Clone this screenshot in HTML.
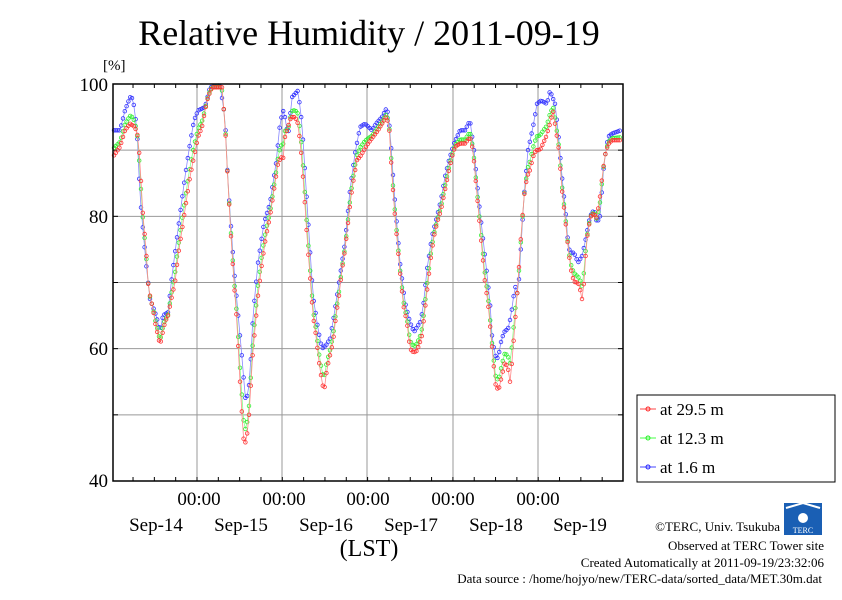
<!DOCTYPE html>
<html><head><meta charset="utf-8"><style>
body{margin:0;background:#fff;width:842px;height:595px;overflow:hidden}
svg text{font-family:"Liberation Serif",serif}
</style></head><body>
<svg id="s" width="842" height="595" xmlns="http://www.w3.org/2000/svg">
<text x="369" y="45" font-size="36" text-anchor="middle">Relative Humidity / 2011-09-19</text>
<text x="103" y="70" font-size="15">[%]</text>
<g font-size="19" text-anchor="end">
<text x="108" y="91">100</text><text x="108" y="223">80</text><text x="108" y="355">60</text><text x="108" y="487">40</text>
</g>
<g font-size="19" text-anchor="middle">
<text x="199" y="505">00:00</text><text x="284" y="505">00:00</text><text x="368" y="505">00:00</text><text x="453" y="505">00:00</text><text x="538" y="505">00:00</text>
<text x="156" y="531">Sep-14</text><text x="241" y="531">Sep-15</text><text x="326" y="531">Sep-16</text><text x="411" y="531">Sep-17</text><text x="496" y="531">Sep-18</text><text x="580" y="531">Sep-19</text>
</g>
<text x="369" y="556" font-size="24" text-anchor="middle">(LST)</text>
<g font-size="13" text-anchor="end">
<text x="780" y="531">©TERC, Univ. Tsukuba</text>
<text x="824" y="550">Observed at TERC Tower site</text>
<text x="824" y="567">Created Automatically at 2011-09-19/23:32:06</text>
<text x="822" y="583">Data source : /home/hojyo/new/TERC-data/sorted_data/MET.30m.dat</text>
</g>
<g>
<rect x="784" y="503" width="38" height="32" fill="#1a5fb4"/>
<path d="M786 508 L803 503 L820 508" stroke="#fff" stroke-width="2" fill="none"/>
<circle cx="803" cy="518" r="5" fill="#fff"/>
<text x="803" y="533" font-size="8" fill="#fff" text-anchor="middle" font-family="Liberation Sans,sans-serif">TERC</text>
</g>
<g id="grid" stroke="#999" stroke-width="1"></g>
<g id="data"></g>
<rect x="113" y="84" width="510" height="397" fill="none" stroke="#000" stroke-width="1.5"/>
<rect x="637" y="395" width="198" height="87" fill="#fff" stroke="#000" stroke-width="1"/>
<g font-size="17">
<line x1="640" y1="409" x2="656" y2="409" stroke="#f44"/><circle cx="648" cy="409" r="2" fill="none" stroke="#f22"/>
<text x="660" y="415">at 29.5 m</text>
<line x1="640" y1="438" x2="656" y2="438" stroke="#4f4"/><circle cx="648" cy="438" r="2" fill="none" stroke="#2e2"/>
<text x="660" y="444">at 12.3 m</text>
<line x1="640" y1="467" x2="656" y2="467" stroke="#44f"/><circle cx="648" cy="467" r="2" fill="none" stroke="#22f"/>
<text x="660" y="473">at 1.6 m</text>
</g>
</svg>
<script>
function Y(v){return 481-(v-40)*6.617;}
var g=document.getElementById('grid'),h='';
[197,282,367,453,538].forEach(function(x){h+='<line x1="'+x+'" y1="84" x2="'+x+'" y2="481"/>';});
[90,80,70,60,50].forEach(function(v){h+='<line x1="113" y1="'+Y(v)+'" x2="623" y2="'+Y(v)+'"/>';});
for(var x=197-85.3;x<623;x+=85.3/4){if(x>114){h+='<line stroke="#000" x1="'+x+'" y1="84" x2="'+x+'" y2="88"/><line stroke="#000" x1="'+x+'" y1="481" x2="'+x+'" y2="477"/>';}}
[100,90,80,70,60,50,40].forEach(function(v){h+='<line stroke="#000" x1="113" y1="'+Y(v)+'" x2="118" y2="'+Y(v)+'"/><line stroke="#000" x1="623" y1="'+Y(v)+'" x2="618" y2="'+Y(v)+'"/>';});
g.innerHTML=h;
var red=[[113,89],[120,90.5],[125,93],[130,94],[135,93.5],[138,92],[140,88],[143,80],[146,75],[148,70],[150,68],[153,66],[155,64],[158,62],[160,60.5],[162,62],[165,64],[168,65],[172,68],[175,70],[178,74],[182,78],[186,82],[190,86],[194,89],[198,92],[202,93.5],[205,96],[208,98],[212,99.5],[222,99.5],[225,94],[228,85],[231,77],[234,70],[237,64],[240,55],[242,50],[244,45.5],[246,46],[248,48],[250,52],[252,58],[255,63],[258,68],[262,73],[266,77],[270,80],[274,84],[278,88],[281,89],[283,88.5],[285,92],[288,93.5],[291,95],[295,95],[298,94],[301,90],[304,84],[307,77],[310,71],[313,65],[316,62],[319,58],[322,55],[324,53.5],[327,57],[330,59],[333,61],[336,65],[339,68],[342,72],[345,75],[348,79],[351,83],[354,86],[357,88.5],[360,89],[364,90],[368,91],[373,92],[378,93],[382,94],[386,95],[389,94],[392,86],[395,80],[398,75],[401,70],[404,66],[407,64],[410,60],[413,59.5],[416,59.5],[419,60.5],[422,62],[425,66],[428,70],[431,74],[434,77],[437,79],[441,81],[445,84],[449,87],[452,89],[455,90.5],[460,91],[465,91],[470,92],[473,90],[476,85],[479,80],[482,75],[485,70],[488,67],[491,62],[494,57],[496,54],[499,54],[502,56],[505,58],[508,57],[510,55],[512,58],[515,64],[518,70],[521,77],[524,83],[527,86],[530,87],[533,89],[536,90],[540,90],[543,91],[546,92],[550,94],[553,96],[556,93],[559,90],[562,84],[565,80],[568,75.5],[570,73],[572,71],[575,70],[578,70],[580,69],[582,67.5],[584,70],[586,75],[588,78],[591,80],[594,80.5],[596,79.5],[598,81],[600,83],[603,87],[606,90],[609,91],[612,91.5],[621,91.5]];
var blue=[[113,93],[120,93],[125,96],[130,98],[133,97.8],[137,93],[140,83],[146,73],[150,67.5],[155,65.5],[158,64],[160,62.5],[163,65],[168,65.5],[172,71],[178,78],[185,86],[190,91],[194,94.5],[198,96],[205,96.5],[210,99.5],[220,99.8],[225,95],[228,85],[234,72],[240,62],[243,57],[245,52.5],[248,53],[250,56],[253,65],[258,73],[264,79],[270,82],[276,88],[280,94],[283,96],[285,95],[288,92],[292,98],[298,99],[302,94],[307,82],[313,68],[318,63],[322,60],[326,60.5],[330,61.5],[334,65],[339,70],[345,76],[350,84],[355,89.5],[360,93.5],[365,94],[372,93],[376,94],[382,95],[387,96.5],[390,93],[394,84],[400,73],[405,67],[410,64],[414,62.5],[418,63.5],[420,64],[423,66],[427,72],[432,77],[437,80],[441,82.5],[445,86],[449,88.5],[454,91],[460,93],[465,93],[470,94.5],[474,90],[479,82],[485,74],[490,67],[492,62],[495,59],[498,58.5],[501,61],[504,62.5],[508,63],[511,65],[515,69.5],[518,68],[520,73],[524,83],[528,90],[533,93.5],[537,97],[541,97.5],[547,97],[550,99],[555,97],[558,93],[562,86],[566,80],[568,76],[570,74.5],[574,74.5],[578,73],[582,74],[585,76],[590,80],[594,81],[597,79],[600,80],[604,88],[608,92],[612,92.5],[621,93]];
function interp(a,x){for(var i=1;i<a.length;i++){if(x<=a[i][0]){var t=(x-a[i-1][0])/(a[i][0]-a[i-1][0]);return a[i-1][1]+t*(a[i][1]-a[i-1][1]);}}return a[a.length-1][1];}
var xs=[];for(var x=114;x<=621;x+=1.8)xs.push(x);
function series(f,lc,mc){var p=[],c='';xs.forEach(function(x){var y=Y(Math.min(100,f(x)));p.push(x.toFixed(1)+','+y.toFixed(1));c+='<circle cx="'+x.toFixed(1)+'" cy="'+y.toFixed(1)+'" r="1.8"/>';});
return '<polyline points="'+p.join(' ')+'" fill="none" stroke="'+lc+'" stroke-width="0.8"/><g fill="none" stroke="'+mc+'" stroke-width="0.8">'+c+'</g>';}
var d=series(function(x){return interp(blue,x);},'#88f','#33f')+series(function(x){var r=interp(red,x),b=interp(blue,x);return r+0.3*(b-r);},'#8f8','#3e3')+series(function(x){return interp(red,x);},'#f88','#f33');
document.getElementById('data').innerHTML=d;
</script>
</body></html>
